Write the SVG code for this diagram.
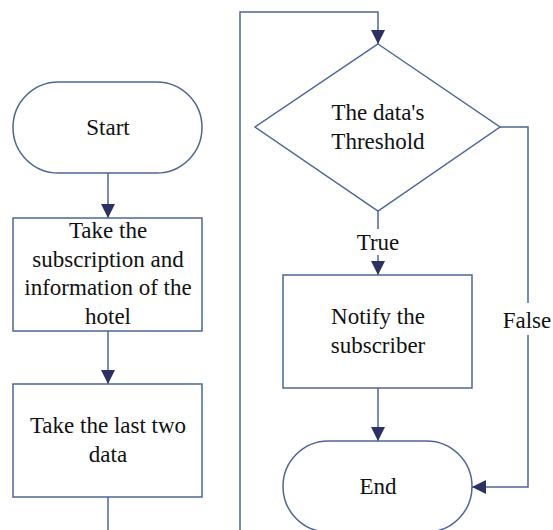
<svg xmlns="http://www.w3.org/2000/svg" width="553" height="530" viewBox="0 0 553 530">
<defs>
<style>
.shape{fill:#ffffff;stroke:#4f6596;stroke-width:1.5}
.line{fill:none;stroke:#4f6596;stroke-width:1.5}
.t{font-family:'Liberation Serif','Times New Roman',serif;font-size:23px;fill:#111111;text-anchor:middle}
</style>
<marker id="arr" markerUnits="userSpaceOnUse" markerWidth="16" markerHeight="16" refX="14" refY="7" orient="auto">
<path d="M0,0 L14,7 L0,14 Z" fill="#2b3263"/>
</marker>
</defs>
<rect width="553" height="530" fill="#ffffff"/>
<g id="connectors">
<path class="line" d="M108,173 V218" marker-end="url(#arr)"/>
<path class="line" d="M108,331 V384" marker-end="url(#arr)"/>
<path class="line" d="M108,497 V530"/>
<path class="line" d="M240,530 V12 H378 V44" marker-end="url(#arr)"/>
<path class="line" d="M378,211 V229"/>
<path class="line" d="M378,255 V275" marker-end="url(#arr)"/>
<path class="line" d="M500,127 H528 V303"/>
<path class="line" d="M528,335 V487 H472" marker-end="url(#arr)"/>
<path class="line" d="M378,388 V441" marker-end="url(#arr)"/>
<text class="t" x="378" y="250">True</text>
<text class="t" x="527" y="328">False</text>
</g>
<g id="start">
<rect class="shape" x="13" y="82" width="189" height="91" rx="45.5" ry="45.5"/>
<text class="t" x="108" y="135">Start</text>
</g>
<g id="take-subscription">
<rect class="shape" x="13" y="218" width="189" height="113"/>
<text class="t" x="108" y="238">Take the</text>
<text class="t" x="108" y="267">subscription and</text>
<text class="t" x="108" y="295">information of the</text>
<text class="t" x="108" y="324">hotel</text>
</g>
<g id="take-last">
<rect class="shape" x="13" y="384" width="189" height="113"/>
<text class="t" x="108" y="433">Take the last two</text>
<text class="t" x="108" y="462">data</text>
</g>
<g id="threshold">
<polygon class="shape" points="378,44 500,127 378,211 255,127"/>
<text class="t" x="378" y="120">The data's</text>
<text class="t" x="378" y="149">Threshold</text>
</g>
<g id="notify">
<rect class="shape" x="283" y="275" width="189" height="113"/>
<text class="t" x="378" y="324">Notify the</text>
<text class="t" x="378" y="353">subscriber</text>
</g>
<g id="end">
<rect class="shape" x="283" y="441" width="189" height="91" rx="45.5" ry="45.5"/>
<text class="t" x="378" y="494">End</text>
</g>
</svg>
